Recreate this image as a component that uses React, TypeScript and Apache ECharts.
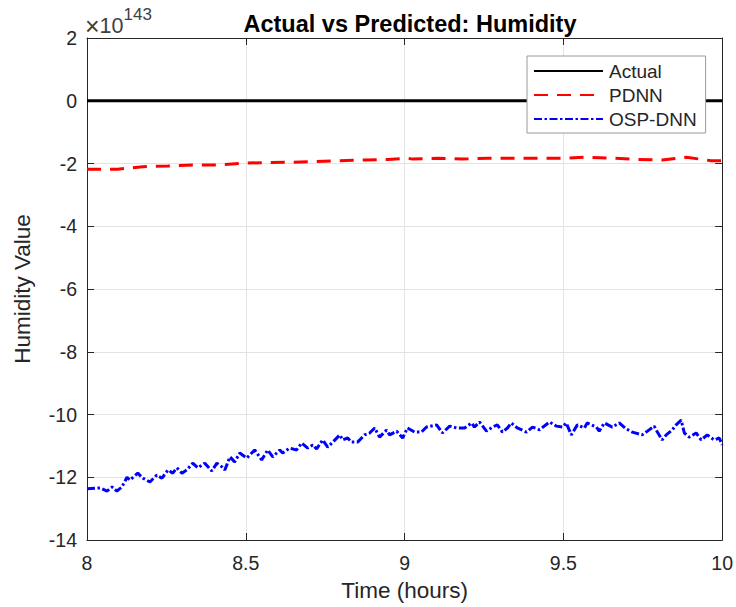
import React, { useEffect, useRef } from "react";
import * as echarts from "echarts";

const seriesNames = ["Actual", "PDNN", "OSP-DNN"];
const yTicks = [2, 0, -2, -4, -6, -8, -10, -12, -14];
const xTicks = [8, 8.5, 9, 9.5, 10];

const actualTime = [8, 10];
const actualValue = [0, 0];

const pdnnTime = [8.0, 8.019, 8.097, 8.176, 8.255, 8.333, 8.409, 8.487, 8.566, 8.638, 8.717, 8.796, 8.874, 8.947, 9.009, 9.025, 9.104, 9.182, 9.261, 9.34, 9.415, 9.497, 9.575, 9.651, 9.733, 9.811, 9.887, 9.965, 10.0];
const pdnnValue = [-2.18, -2.18, -2.18, -2.1, -2.08, -2.05, -2.05, -1.99, -1.97, -1.96, -1.94, -1.91, -1.89, -1.87, -1.83, -1.86, -1.83, -1.86, -1.83, -1.83, -1.83, -1.83, -1.8, -1.83, -1.87, -1.89, -1.8, -1.91, -1.91];

const ospTime = [8.0, 8.041, 8.063, 8.079, 8.094, 8.11, 8.126, 8.135, 8.16, 8.176, 8.198, 8.22, 8.236, 8.255, 8.27, 8.283, 8.299, 8.314, 8.333, 8.349, 8.371, 8.393, 8.409, 8.425, 8.434, 8.45, 8.465, 8.481, 8.503, 8.528, 8.55, 8.569, 8.585, 8.607, 8.616, 8.638, 8.66, 8.676, 8.695, 8.711, 8.723, 8.742, 8.758, 8.774, 8.796, 8.805, 8.821, 8.833, 8.852, 8.874, 8.89, 8.906, 8.921, 8.943, 8.953, 8.975, 8.994, 9.009, 9.031, 9.053, 9.069, 9.101, 9.119, 9.142, 9.164, 9.189, 9.211, 9.22, 9.236, 9.258, 9.277, 9.292, 9.308, 9.324, 9.336, 9.355, 9.384, 9.403, 9.425, 9.456, 9.478, 9.497, 9.509, 9.525, 9.544, 9.566, 9.575, 9.604, 9.613, 9.629, 9.654, 9.676, 9.698, 9.717, 9.748, 9.77, 9.786, 9.796, 9.811, 9.824, 9.843, 9.855, 9.871, 9.881, 9.896, 9.918, 9.934, 9.953, 9.975, 9.991, 10.0];
const ospValue = [-12.37, -12.34, -12.44, -12.31, -12.44, -12.31, -12.0, -12.09, -11.87, -12.03, -12.15, -11.93, -12.03, -11.77, -11.87, -11.7, -11.87, -11.77, -11.55, -11.7, -11.55, -11.8, -11.55, -11.67, -11.77, -11.35, -11.51, -11.23, -11.39, -11.13, -11.45, -11.13, -11.35, -11.13, -11.23, -11.07, -11.13, -10.91, -11.07, -10.97, -11.1, -10.81, -11.04, -10.88, -10.65, -10.81, -10.75, -10.88, -10.88, -10.65, -10.59, -10.43, -10.72, -10.5, -10.65, -10.53, -10.75, -10.43, -10.56, -10.56, -10.4, -10.33, -10.59, -10.37, -10.43, -10.43, -10.27, -10.4, -10.24, -10.53, -10.4, -10.33, -10.56, -10.43, -10.27, -10.43, -10.56, -10.4, -10.49, -10.24, -10.37, -10.4, -10.27, -10.65, -10.33, -10.43, -10.27, -10.4, -10.53, -10.27, -10.4, -10.27, -10.46, -10.56, -10.65, -10.49, -10.37, -10.56, -10.81, -10.65, -10.49, -10.33, -10.18, -10.59, -10.72, -10.59, -10.81, -10.65, -10.81, -10.75, -10.97];

const FONT = "Liberation Sans, Arial, sans-serif";
const AXIS_COLOR = "#262626";

export default function App() {
  const ref = useRef<HTMLDivElement>(null);
  useEffect(() => {
    if (!ref.current) return;
    const chart = echarts.init(ref.current, undefined, { renderer: "svg" });
    const pairs = (t: number[], v: number[]) => t.map((x, i) => [x, v[i]]);
    const axisCommon = {
      type: "value" as const,
      axisLine: { show: true, onZero: false, lineStyle: { color: AXIS_COLOR, width: 1 } },
      axisTick: { show: true, inside: true, length: 7, lineStyle: { color: AXIS_COLOR } },
    };
    chart.setOption({
      animation: false,
      backgroundColor: "#ffffff",
      textStyle: { fontFamily: FONT },
      title: {
        text: "Actual vs Predicted: Humidity",
        left: 405,
        top: 7,
        textAlign: "center",
        textStyle: { fontSize: 23.5, fontWeight: "bold", color: "#000", fontFamily: FONT },
      },
      grid: { left: 87, right: 13, top: 38, bottom: 67, containLabel: false },
      legend: {
        orient: "vertical",
        left: 527,
        top: 56,
        data: seriesNames,
        itemWidth: 69,
        itemHeight: 20,
        itemGap: 4,
        padding: [5, 9, 4, 6],
        borderColor: "#9a9a9a",
        borderWidth: 1,
        backgroundColor: "#ffffff",
        itemStyle: { opacity: 0 },
        textStyle: { fontSize: 19, lineHeight: 20, color: AXIS_COLOR, fontFamily: FONT, padding: [0, 0, 0, 1] },
      },
      xAxis: [
        {
          ...axisCommon,
          min: 8,
          max: 10,
          interval: 0.5,
          position: "bottom",
          name: "Time (hours)",
          nameLocation: "middle",
          nameGap: 39,
          nameTextStyle: { fontSize: 22.5, color: AXIS_COLOR, fontFamily: FONT },
          axisLabel: {
            fontSize: 19.5,
            color: AXIS_COLOR,
            margin: 13,
            fontFamily: FONT,
            formatter: (v: number) => (xTicks.includes(v) ? String(v) : ""),
          },
          splitLine: { show: true, lineStyle: { color: "#e3e3e3", width: 1 } },
        },
        {
          ...axisCommon,
          min: 8,
          max: 10,
          interval: 0.5,
          position: "top",
          axisLabel: { show: false },
          splitLine: { show: false },
        },
      ],
      yAxis: [
        {
          ...axisCommon,
          min: -14,
          max: 2,
          interval: 2,
          position: "left",
          name: "Humidity Value",
          nameLocation: "middle",
          nameGap: 53,
          nameTextStyle: { fontSize: 22.5, color: AXIS_COLOR, fontFamily: FONT },
          axisLabel: {
            fontSize: 19.5,
            color: AXIS_COLOR,
            margin: 10,
            fontFamily: FONT,
            formatter: (v: number) => (yTicks.includes(v) ? String(v) : ""),
          },
          splitLine: { show: true, lineStyle: { color: "#e3e3e3", width: 1 } },
        },
        {
          ...axisCommon,
          min: -14,
          max: 2,
          interval: 2,
          position: "right",
          axisLabel: { show: false },
          splitLine: { show: false },
        },
      ],
      graphic: [
        {
          type: "text",
          left: 85,
          top: 6,
          style: {
            text: "{x|×}{a|10}{b|143}",
            rich: {
              x: { fontSize: 25, fill: "#404040", fontFamily: FONT, padding: [7, 0, 0, 0] },
              a: { fontSize: 21.5, fill: "#404040", fontFamily: FONT, padding: [8, 0, 0, 0] },
              b: { fontSize: 17, fill: "#404040", fontFamily: FONT, verticalAlign: "top" },
            },
          },
        },
      ],
      series: [
        {
          name: "Actual",
          type: "line",
          symbol: "none",
          data: pairs(actualTime, actualValue),
          lineStyle: { color: "#000000", width: 3, type: "solid" },
          itemStyle: { color: "#000000" },
          z: 3,
        },
        {
          name: "PDNN",
          type: "line",
          symbol: "none",
          data: pairs(pdnnTime, pdnnValue),
          lineStyle: { color: "#ff0000", width: 3, type: [14, 9] },
          itemStyle: { color: "#ff0000" },
          z: 2,
        },
        {
          name: "OSP-DNN",
          type: "line",
          symbol: "none",
          data: pairs(ospTime, ospValue),
          lineStyle: { color: "#0000ff", width: 3, type: [8, 2.5, 2.5, 2.5] },
          itemStyle: { color: "#0000ff" },
          z: 2,
        },
      ],
    });
    return () => chart.dispose();
  }, []);
  return (
    <div
      ref={ref}
      style={{ position: "absolute", left: 0, top: 0, width: 736, height: 607 }}
    />
  );
}
